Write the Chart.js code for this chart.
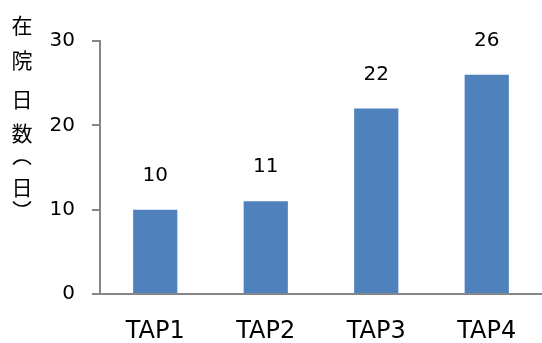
<!DOCTYPE html>
<html>
<head>
<meta charset="utf-8">
<script src="https://cdn.jsdelivr.net/npm/chart.js@4"></script>
<style>
  html, body { margin: 0; padding: 0; background: #fff; }
  #wrap { width: 542px; height: 343px; }
</style>
</head>
<body>
<div id="wrap"><canvas id="grafica" width="542" height="343"></canvas></div>
<script>
const categorias = ['TAP1', 'TAP2', 'TAP3', 'TAP4'];
const dias = [10, 11, 22, 26];
const ticksY = [0, 10, 20, 30];
// vertical axis title, one glyph per line; brackets are drawn as arcs
const tituloY = ['在', '院', '日', '数', '(', '日', ')'];
const pasoTitulo = [0, 35, 39, 34, 29, 25, 17];

const fuente = 'Verdana, "DejaVu Sans", sans-serif';
const gris = '#868686';

// value above each bar
const etiquetas = {
  id: 'etiquetas',
  afterDatasetsDraw(chart) {
    const ctx = chart.ctx;
    const meta = chart.getDatasetMeta(0);
    ctx.save();
    ctx.font = '20px ' + fuente;
    ctx.fillStyle = '#000';
    ctx.textAlign = 'center';
    ctx.textBaseline = 'middle';
    meta.data.forEach((bar, i) => {
      ctx.fillText(String(dias[i]), bar.x, bar.y - 34);
    });
    ctx.restore();
  }
};

const tituloVertical = {
  id: 'tituloVertical',
  afterDraw(chart) {
    const ctx = chart.ctx;
    const x = 22;
    ctx.save();
    ctx.fillStyle = '#000';
    ctx.strokeStyle = '#000';
    ctx.lineWidth = 1.6;
    ctx.textAlign = 'center';
    ctx.textBaseline = 'middle';
    ctx.font = '21px "Noto Sans CJK JP", sans-serif';
    let y = 25;
    tituloY.forEach((c, i) => {
      y += pasoTitulo[i];
      if (c === '(') {
        ctx.beginPath();
        ctx.arc(x, y + 9, 11, Math.PI * 1.2, Math.PI * 1.8);
        ctx.stroke();
      } else if (c === ')') {
        ctx.beginPath();
        ctx.arc(x, y - 9, 11, Math.PI * 0.2, Math.PI * 0.8);
        ctx.stroke();
      } else {
        ctx.fillText(c, x, y);
      }
    });
    ctx.restore();
  }
};

const ctx = document.getElementById('grafica').getContext('2d');
new Chart(ctx, {
  type: 'bar',
  data: {
    labels: categorias,
    datasets: [{
      data: dias,
      backgroundColor: '#4F81BD',
      barPercentage: 0.4,
      categoryPercentage: 1
    }]
  },
  options: {
    responsive: false,
    animation: false,
    events: [],
    layout: { padding: { top: 41, right: 0, bottom: 0, left: 0 } },
    plugins: {
      legend: { display: false },
      tooltip: { enabled: false }
    },
    scales: {
      x: {
        afterFit(scale) { scale.height = 49; },
        grid: { display: false, drawTicks: false },
        border: { display: true, color: gris, width: 2 },
        ticks: { color: '#000', font: { size: 24, family: fuente }, padding: 23 }
      },
      y: {
        min: 0,
        max: 30,
        afterFit(scale) { scale.width = 100; },
        afterBuildTicks(scale) { scale.ticks = ticksY.map(v => ({ value: v })); },
        grid: { drawOnChartArea: false, color: gris, tickLength: 8, lineWidth: 2 },
        border: { display: true, color: gris, width: 2 },
        ticks: { color: '#000', font: { size: 20, family: fuente }, padding: 17 }
      }
    }
  },
  plugins: [etiquetas, tituloVertical]
});
</script>
</body>
</html>
